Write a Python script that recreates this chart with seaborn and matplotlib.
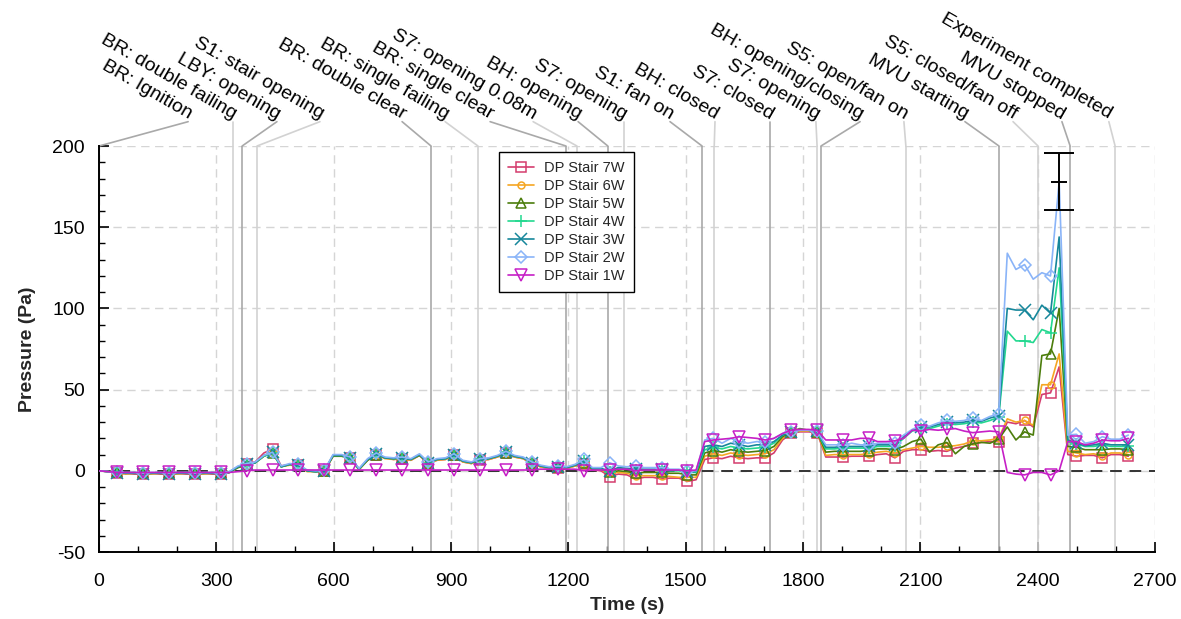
import numpy as np
import pandas as pd
import seaborn as sns
import matplotlib.pyplot as plt
from matplotlib.ticker import MultipleLocator

# sampling grid of the logger (s)
time_s = np.round(1.8 + 22.1 * np.arange(120), 1)

# differential pressure readings (Pa), one value per sample
stair_7w = [0, -0.5, -1.5, -1.5, -2, -2, -1.5, -2, -2, -1.5, -2, -2, -1.5, -2, -2, -1,
            2.5, 4.5, 5.5, 11, 13.5, 3, 4, 3.5, 0, -0.5, 0, 9, 9.5, 8, 1, 6.5,
            10, 8, 7, 7.5, 6.5, 9.5, 4.5, 6.5, 7, 9.5, 5.5, 4.5, 6.5, 7, 8.5, 11,
            8.5, 7.5, 4.5, 2.5, 1.5, 2, 1.5, 3,
            4, 0.5, 0, -3.5, -2, -2.5, -5, -4, -4, -5, -4.5, -4.5, -6.5, -5.5,
            7, 8, 7.5, 9, 8, 7.5, 8, 8, 11, 19, 23, 24, 24, 23.5,
            8.5, 8.5, 8.5, 9, 9, 9, 10, 10.5,
            8, 12, 13, 13, 12, 12.5, 12, 14, 15, 17, 17.5, 18, 18,
            30, 29, 31, 27, 47, 48, 64, 10,
            9, 9.5, 9.5, 8, 10, 10, 9]
stair_6w = [0, -0.5, -1.5, -2, -1.5, -2, -2, -1.5, -2, -2, -1.5, -2, -2, -1.5, -2, -1,
            2, 3.5, 5, 9, 11.5, 2.5, 3.5, 3, -0.5, -0.5, -0.5, 9, 9, 7.5, 0.5, 6.5,
            10, 7.5, 7, 7.5, 6.5, 9.5, 4.5, 6.5, 7, 9.5, 5.5, 4.5, 6.5, 7, 8.5, 11,
            8.5, 7.5, 4.5, 2.5, 1.5, 2, 1.5, 3,
            4.5, 1, 0.5, -1.5, -1, -1.5, -3, -3, -3, -3, -3.5, -4, -4, -4,
            9, 10.5, 9.5, 11, 10, 9.5, 10, 10.5, 13, 20, 23.5, 24.5, 24.5, 24,
            9.5, 10, 10, 10, 10, 10.5, 11.5, 12,
            11, 13, 14, 15, 14.5, 14.5, 15, 15.5, 16.5, 18.5, 18.5, 19, 20,
            32, 30, 31, 28, 53, 53, 72, 12,
            11, 10, 10.5, 9, 11, 11, 10]
stair_5w = [0, -0.5, -1, -1.5, -1.5, -1.5, -1.5, -1.5, -1.5, -1.5, -1.5, -1.5, -1.5, -1.5, -1.5, -1,
            2, 3.5, 5, 9, 11, 2.5, 4, 3.5, 0, -0.5, 0, 9, 9, 8, 1, 6.5,
            10, 8, 7.5, 8, 7, 9.5, 5, 7, 7.5, 10, 6, 5, 7, 7.5, 9, 11,
            9, 8, 5, 3, 2, 2.5, 2, 3.5,
            5, 1, 1, -1, 0, -0.5, -1.5, -1, -1, -1, -1.5, -1.5, -2.5, -2.5,
            11, 12.5, 11.5, 13, 12, 11.5, 12, 12.5, 15, 21, 24, 26, 25, 24,
            11.5, 12, 12, 12, 12, 12.5, 13.5, 13.5,
            13, 15, 18, 19.5, 11.5, 16, 17.5, 10.5, 15, 16.5, 17.5, 17, 19.5,
            27, 19, 24, 22, 71, 72, 100, 15,
            14.5, 13, 13, 13, 13.5, 13.5, 13]
stair_4w = [0, -0.5, -1, -1.5, -1, -1.5, -1.5, -1, -1.5, -1.5, -1, -1.5, -1.5, -1, -1.5, -0.5,
            2.5, 4, 5, 9, 11, 2.5, 4, 3.5, 0, -0.5, 0, 9.5, 9.5, 8, 1, 7,
            10.5, 8, 7.5, 8, 7, 10, 5, 7, 7.5, 10, 6, 5, 7, 7.5, 9, 11.5,
            9, 8, 5, 3, 2, 2.5, 2, 3.5,
            6, 1.5, 1, -0.5, 1.5, 1, 0.5, 0.5, 0.5, 0.5, 0, 0, -1, -1,
            13, 14.5, 13.5, 15, 14, 13.5, 14, 14.5, 17, 22, 24, 25.5, 25, 24,
            13.5, 13.5, 14, 14, 14, 14, 15, 15,
            15, 20, 24.5, 26, 26, 27.5, 29, 28.5, 29, 30, 29.5, 31, 33,
            86, 80, 80, 79, 87, 85, 125, 18,
            16.5, 15, 15, 16, 15, 15, 15]
stair_3w = [0, -0.5, -1.5, -1.5, -1.5, -2, -1.5, -1.5, -2, -1.5, -1.5, -2, -1.5, -1.5, -2, -1,
            2.5, 4, 5, 9.5, 11.5, 2.5, 4, 3.5, 0, -0.5, 0, 9.5, 9.5, 8, 1, 7,
            10.5, 8, 7.5, 8, 7, 10, 5, 7, 7.5, 10, 6, 5, 7, 7.5, 9, 11.5,
            9, 8, 5, 3, 2, 2.5, 2, 3.5,
            6, 1.5, 1.5, 0, 2, 1.5, 1, 1, 1, 1, 0.5, 0.5, -0.5, -0.5,
            15, 16, 15, 17, 16, 15, 16, 16, 18, 22, 24, 25, 25, 24.5,
            14.5, 14.5, 15, 15, 15, 15, 16, 16,
            16, 21, 25, 27, 27, 28.5, 30, 29.5, 30, 31, 30.5, 32.5, 34,
            100, 99, 99, 93, 102, 97, 144, 19,
            17, 15.5, 16, 17, 16, 16, 16]
stair_2w = [0, -0.5, -1, -1, -1, -1.5, -1, -1, -1.5, -1, -1, -1.5, -1, -1, -1.5, -0.5,
            3, 4.5, 5.5, 9.5, 11.5, 3, 4.5, 4, 0.5, 0, 0.5, 10, 10, 8.5, 1.5, 7.5,
            11, 8.5, 8, 8.5, 7.5, 10.5, 5.5, 7.5, 8, 10.5, 6.5, 5.5, 7.5, 8, 9.5, 12,
            9.5, 8.5, 5.5, 3.5, 2.5, 3, 2.5, 4,
            7, 2, 2, 5, 3, 2.5, 3, 2, 2, 2, 1, 1, 0, 0,
            19, 20, 17, 20, 18, 17, 18, 18, 20, 23, 24, 25, 25, 24.5,
            16, 16, 16, 17, 16, 16, 17, 17,
            17, 22, 25.5, 28, 27.5, 29.5, 31, 30.5, 31, 32.5, 31, 33.5, 35,
            134, 124, 127, 118, 122, 120, 178, 22,
            22.5, 17, 18, 21, 19.5, 19.5, 22]
stair_1w = [0, -0.5, -1, -1, -1, -1, -1, -1, -1, -1, -1, -1, -1, -1, -1, -1,
            -0.5, 0, 0.5, 0.5, 0.5, 0.5, 0.5, 0.5, 0.5, 0.5, 0.5, 0.5, 0.5, 0.5, 0.5, 0.5,
            0.5, 0.5, 0.5, 0.5, 0.5, 0.5, 0.5, 0.5, 0.5, 0.5, 0.5, 0.5, 0.5, 0.5, 0.5, 0.5,
            0.5, 0.5, 0.5, 1, 1, 1, 1, 1,
            0, 0.5, 0.5, 0.5, 1, 1, 0, 0.5, 0.5, 0.5, 0.5, 0.5, 0, 0.5,
            18, 19, 19.5, 20, 21, 20.5, 20, 19, 20, 23, 25, 25.5, 25.5, 25,
            19, 19, 19, 19, 20, 20, 18, 18,
            18.5, 20, 25, 24.5, 25.5, 25, 25.5, 26, 24.5, 23.5, 24, 24.5, 24,
            -1, -2, -2.5, -1, -1, -2.5, 0, 18,
            18, 16, 17, 19, 18.5, 18.5, 20]

series_names = ["DP Stair 7W", "DP Stair 6W", "DP Stair 5W", "DP Stair 4W",
                "DP Stair 3W", "DP Stair 2W", "DP Stair 1W"]
series_values = [stair_7w, stair_6w, stair_5w, stair_4w, stair_3w, stair_2w, stair_1w]
series_colors = ["#d43d6e", "#f5a623", "#4c7d0c", "#22d88f", "#17879b", "#8ab4f8", "#c61fc6"]
series_markers = ["s", "o", "^", "+", "x", "D", "v"]
series_msize = [7, 5, 7, 9, 8, 6.5, 8]

# peak uncertainty of the 2W reading (Pa)
peak_err = 17.5

# test events: time (s) and label
event_t = [0, 343, 366, 404, 849, 969, 1194, 1222, 1301, 1342,
           1542, 1573, 1716, 1836, 1846, 2063, 2301, 2401, 2483, 2598]
event_labels = ["BR: Ignition", "BR: double failing", "LBY: opening", "S1: stair opening",
                "BR: double clear", "BR: single failing", "BR: single clear",
                "S7: opening 0.08m", "BH: opening", "S7: opening", "S1: fan on",
                "BH: closed", "S7: closed", "S7: opening", "BH: opening/closing",
                "S5: open/fan on", "MVU starting", "S5: closed/fan off",
                "MVU stopped", "Experiment completed"]
# where each rotated label ends (x, data units)
label_end_x = [228, 343, 455, 565, 775, 885, 1000, 1110, 1225, 1342,
               1460, 1575, 1716, 1833, 1946, 2058, 2214, 2337, 2462, 2582]


def main():
    sns.set_theme(style="white")
    plt.rcParams['font.family'] = ['Liberation Sans', 'DejaVu Sans']
    plt.rcParams['axes.unicode_minus'] = False

    fig = plt.figure(figsize=(11.81, 6.19), dpi=100)
    ax = fig.add_axes([0.0838, 0.1082, 0.8942, 0.6559])

    # event markers: vertical lines, alternating grey
    for i, (t, lab, lx) in enumerate(zip(event_t, event_labels, label_end_x)):
        col = "#a9a9a9" if i % 2 == 0 else "#d2d2d2"
        ax.axvline(t, color=col, lw=1.2, zorder=1.5)
        ax.plot([lx, t], [215, 200], color=col, lw=1.2, clip_on=False, zorder=1.5)
        ax.text(lx, 216.5, lab, rotation=-30, rotation_mode='anchor', ha='right',
                va='baseline', fontsize=14, color='black', clip_on=False)

    ax.axhline(0, color='#333333', ls=(0, (6, 4)), lw=1.4, zorder=2)

    for name, vals, col, mk, ms in zip(series_names, series_values, series_colors,
                                       series_markers, series_msize):
        df = pd.DataFrame({'time': time_s, 'pressure': vals})
        sns.lineplot(data=df, x='time', y='pressure', ax=ax, color=col, lw=1.2,
                     marker=mk, markersize=ms, markevery=(2, 3), markerfacecolor='none',
                     markeredgecolor=col, markeredgewidth=1.1, label=name, zorder=3)

    # error bar on the 2W peak
    i_peak = int(np.argmax(stair_2w))
    ax.errorbar(time_s[i_peak], stair_2w[i_peak], yerr=peak_err, fmt='_', color='black',
                markersize=11.5, markeredgewidth=1.4, capsize=11, capthick=1.4,
                elinewidth=1.4, zorder=5)

    ax.set_xlim(0, 2700)
    ax.set_ylim(-50, 200)
    ax.xaxis.set_major_locator(MultipleLocator(300))
    ax.xaxis.set_minor_locator(MultipleLocator(100))
    ax.yaxis.set_major_locator(MultipleLocator(50))
    ax.yaxis.set_minor_locator(MultipleLocator(10))
    ax.grid(True, which='major', color='#d5d5d5', ls=(0, (6, 4)), lw=1.0, zorder=0)
    ax.set_axisbelow(True)

    for side in ['top', 'right']:
        ax.spines[side].set_visible(False)
    for side in ['left', 'bottom']:
        ax.spines[side].set_color('black')
        ax.spines[side].set_linewidth(1.4)

    ax.tick_params(which='both', bottom=True, left=True, top=False, right=False)
    ax.tick_params(which='major', direction='in', length=7, width=1.2, labelsize=14,
                   colors='black')
    ax.tick_params(which='minor', direction='in', length=4, width=1.0, colors='black')
    ax.tick_params(axis='x', which='major', pad=15)
    ax.tick_params(axis='y', which='major', pad=10)

    ax.set_xlabel("Time (s)", fontsize=14, fontweight='bold', labelpad=5)
    ax.set_ylabel("Pressure (Pa)", fontsize=14, fontweight='bold', labelpad=12)

    leg = ax.legend(loc='upper left', bbox_to_anchor=(0.379, 0.985), borderaxespad=0,
                    frameon=True, fancybox=False, edgecolor='black', fontsize=10.5,
                    handlelength=1.8, handletextpad=0.7, labelspacing=0.28,
                    borderpad=0.6, framealpha=1)
    leg.get_frame().set_linewidth(1.0)

    fig.savefig("out.png", dpi=100)


if __name__ == '__main__':
    main()
